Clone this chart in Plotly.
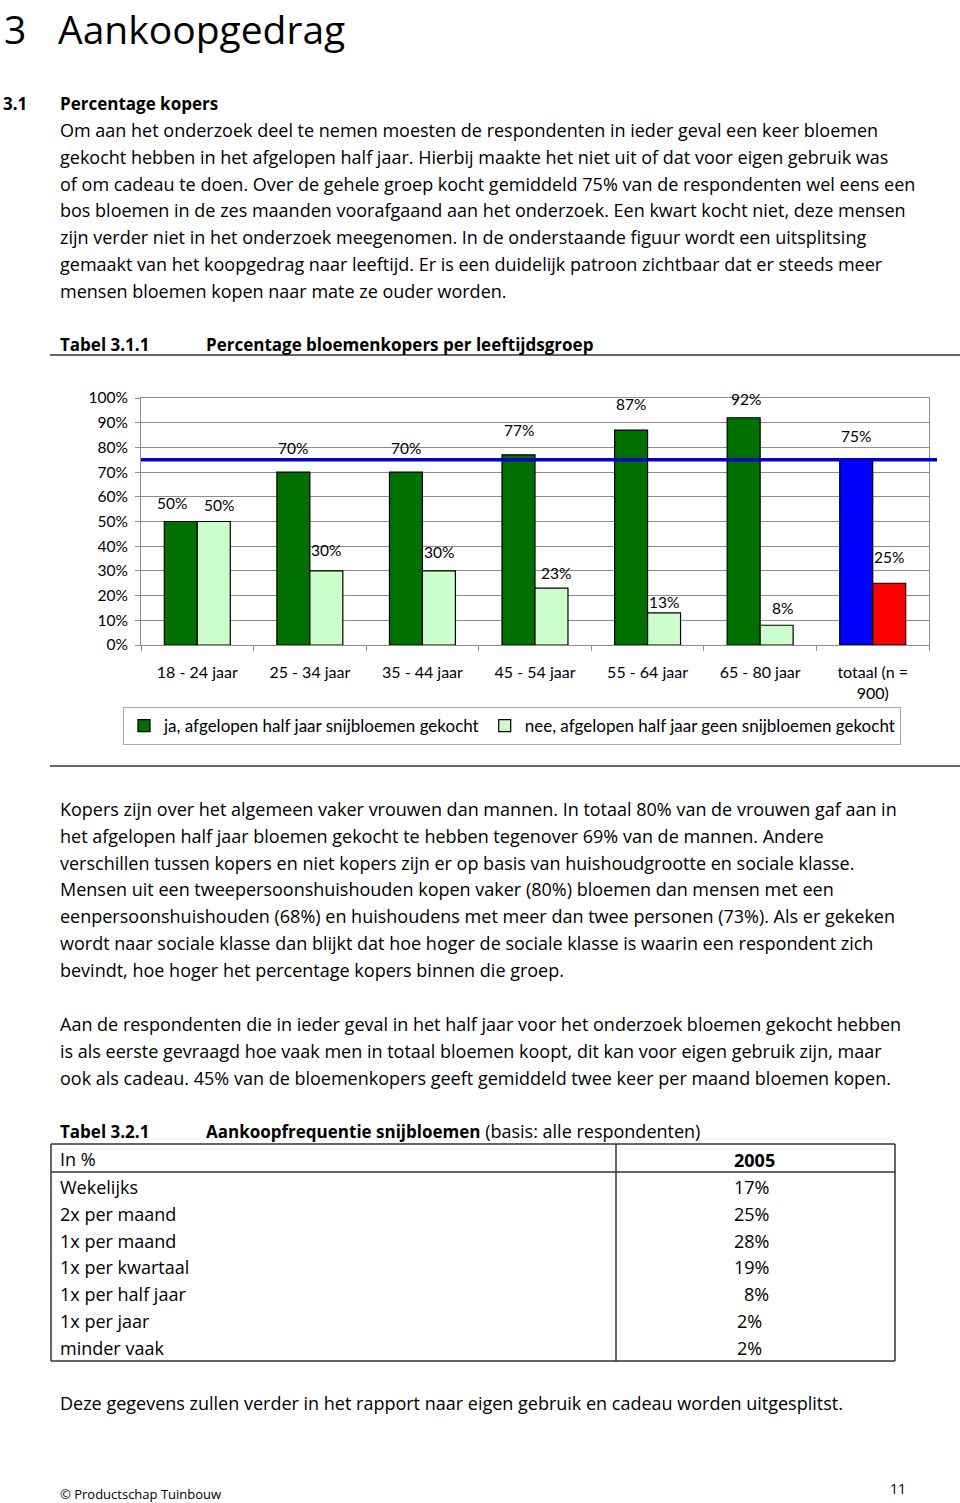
import plotly.graph_objects as go

W, H = 960, 1503
FONT = "Open Sans"
CHART_FONT = "Lato"
BODY = 18
BOLD = 17

# ---------------- data ----------------
categories = ["18 - 24 jaar", "25 - 34 jaar", "35 - 44 jaar", "45 - 54 jaar",
              "55 - 64 jaar", "65 - 80 jaar", "totaal (n =<br>900)"]
ja_pct = [50, 70, 70, 77, 87, 92, 75]
nee_pct = [50, 30, 30, 23, 13, 8, 25]
gemiddeld_pct = 75
y_tick_values = [0, 10, 20, 30, 40, 50, 60, 70, 80, 90, 100]
y_tick_labels = ["0%", "10%", "20%", "30%", "40%", "50%", "60%", "70%", "80%", "90%", "100%"]
series_names = ["ja, afgelopen half jaar snijbloemen gekocht",
                "nee, afgelopen half jaar geen snijbloemen gekocht"]

freq_labels = ["Wekelijks", "2x per maand", "1x per maand", "1x per kwartaal",
               "1x per half jaar", "1x per jaar", "minder vaak"]
freq_2005 = [17, 25, 28, 19, 8, 2, 2]

# label placement (pixel offsets relative to bar top)
ja_label_dy = [19, 24, 24, 25, 26, 19, 24]
ja_label_dx = [-9, 0, 0, 0, 0, 2, 0]
nee_label_dy = [17, 21, 19, 15, 11, 17, 26]
nee_label_dx = [5, 0, 0, 5, 0, 6, 0]

ja_colors = ["#007000"] * 6 + ["#0000FF"]
nee_colors = ["#CCFFCC"] * 6 + ["#FF0000"]

# ---------------- helpers ----------------
def X(x):
    return x / W


def Y(y):
    return 1 - y / H


annotations = []
shapes = []


def text(x, y, s, size=BODY, anchor="left", family=FONT, yanchor="middle"):
    annotations.append(dict(x=X(x), y=Y(y), xref="paper", yref="paper", text=s,
                            showarrow=False, xanchor=anchor, yanchor=yanchor,
                            font=dict(family=family, size=size, color="black")))


def hline(x0, x1, y, color="#333333", width=1.5):
    shapes.append(dict(type="line", xref="paper", yref="paper", x0=X(x0), x1=X(x1),
                       y0=Y(y), y1=Y(y), line=dict(color=color, width=width)))


def vline(x, y0, y1, color="#333333", width=1.5):
    shapes.append(dict(type="line", xref="paper", yref="paper", x0=X(x), x1=X(x),
                       y0=Y(y0), y1=Y(y1), line=dict(color=color, width=width)))


# ---------------- page text ----------------
text(2, 0, "3", size=39, yanchor="top")
text(56, 0, "Aankoopgedrag", size=39, yanchor="top")
text(1, 103, "<b>3.1</b>", size=BOLD)
text(58, 103, "<b>Percentage kopers</b>", size=BOLD)

para1 = [
    "Om aan het onderzoek deel te nemen moesten de respondenten in ieder geval een keer bloemen",
    "gekocht hebben in het afgelopen half jaar. Hierbij maakte het niet uit of dat voor eigen gebruik was",
    "of om cadeau te doen. Over de gehele groep kocht gemiddeld 75% van de respondenten wel eens een",
    "bos bloemen in de zes maanden voorafgaand aan het onderzoek. Een kwart kocht niet, deze mensen",
    "zijn verder niet in het onderzoek meegenomen. In de onderstaande figuur wordt een uitsplitsing",
    "gemaakt van het koopgedrag naar leeftijd. Er is een duidelijk patroon zichtbaar dat er steeds meer",
    "mensen bloemen kopen naar mate ze ouder worden.",
]
for i, line in enumerate(para1):
    text(58, 130 + i * 26.8, line)

text(58, 345, "<b>Tabel 3.1.1</b>", size=BOLD)
text(204, 345, "<b>Percentage bloemenkopers per leeftijdsgroep</b>", size=BOLD)
hline(50, 960, 355)
hline(50, 960, 766)

para2 = [
    "Kopers zijn over het algemeen vaker vrouwen dan mannen. In totaal 80% van de vrouwen gaf aan in",
    "het afgelopen half jaar bloemen gekocht te hebben tegenover 69% van de mannen. Andere",
    "verschillen tussen kopers en niet kopers zijn er op basis van huishoudgrootte en sociale klasse.",
    "Mensen uit een tweepersoonshuishouden kopen vaker (80%) bloemen dan mensen met een",
    "eenpersoonshuishouden (68%) en huishoudens met meer dan twee personen (73%). Als er gekeken",
    "wordt naar sociale klasse dan blijkt dat hoe hoger de sociale klasse is waarin een respondent zich",
    "bevindt, hoe hoger het percentage kopers binnen die groep.",
]
for i, line in enumerate(para2):
    text(58, 809 + i * 26.8, line)

para3 = [
    "Aan de respondenten die in ieder geval in het half jaar voor het onderzoek bloemen gekocht hebben",
    "is als eerste gevraagd hoe vaak men in totaal bloemen koopt, dit kan voor eigen gebruik zijn, maar",
    "ook als cadeau. 45% van de bloemenkopers geeft gemiddeld twee keer per maand bloemen kopen.",
]
for i, line in enumerate(para3):
    text(58, 1024 + i * 26.8, line)

text(58, 1131, "<b>Tabel 3.2.1</b>", size=BOLD)
text(204, 1131, "<b>Aankoopfrequentie snijbloemen</b>"
     "<span style='font-size:18px'> (basis: alle respondenten)</span>", size=BOLD)

# table frame
hline(51, 895, 1144)
hline(51, 895, 1361)
vline(51, 1144, 1361)
vline(895, 1144, 1361)
vline(616, 1144, 1361)
hline(51, 895, 1172)
text(58, 1159, "In %")
text(777, 1160, "<b>2005</b>", anchor="right")
for i, (lab, val) in enumerate(zip(freq_labels, freq_2005)):
    yy = 1187 + i * 26.8
    text(58, yy, lab)
    text(771 if val >= 5 else 764, yy, f"{val}%", anchor="right")

text(58, 1403, "Deze gegevens zullen verder in het rapport naar eigen gebruik en cadeau worden uitgesplitst.")
text(58, 1494, "© Productschap Tuinbouw", size=13)
text(908, 1488, "11", size=14, anchor="right")

# ---------------- chart ----------------
fig = go.Figure()
fig.add_trace(go.Bar(x=categories, y=ja_pct, name=series_names[0],
                     marker=dict(color=ja_colors, line=dict(color="black", width=1.2))))
fig.add_trace(go.Bar(x=categories, y=nee_pct, name=series_names[1],
                     marker=dict(color=nee_colors, line=dict(color="black", width=1.2))))

plot_x0, plot_x1 = 141, 929
group_px = (plot_x1 - plot_x0) / len(categories)
bargap = 0.414
bar_px = group_px * (1 - bargap) / 2

for i, c in enumerate(categories):
    annotations.append(dict(x=c, y=ja_pct[i], xref="x", yref="y", text=f"{ja_pct[i]}%",
                            showarrow=False, xanchor="center", yanchor="middle",
                            xshift=-bar_px / 2 + ja_label_dx[i], yshift=ja_label_dy[i],
                            font=dict(family=CHART_FONT, size=15.5, color="black")))
    annotations.append(dict(x=c, y=nee_pct[i], xref="x", yref="y", text=f"{nee_pct[i]}%",
                            showarrow=False, xanchor="center", yanchor="middle",
                            xshift=bar_px / 2 + nee_label_dx[i], yshift=nee_label_dy[i],
                            font=dict(family=CHART_FONT, size=15.5, color="black")))

# average line
shapes.append(dict(type="line", xref="paper", yref="y", x0=X(plot_x0), x1=X(937),
                   y0=gemiddeld_pct, y1=gemiddeld_pct, line=dict(color="#0000CC", width=3.5),
                   layer="above"))

grid = "#8c8c8c"
fig.update_layout(
    width=W, height=H,
    margin=dict(l=0, r=0, t=0, b=0, pad=0, autoexpand=False),
    paper_bgcolor="white", plot_bgcolor="white",
    barmode="group", bargap=bargap, bargroupgap=0,
    font=dict(family=CHART_FONT, size=15, color="black"),
    xaxis=dict(domain=[X(plot_x0), X(plot_x1)], type="category", automargin=False,
               showline=True, linecolor=grid, linewidth=1, mirror=True,
               ticks="outside", tickson="boundaries", ticklen=5, tickcolor=grid,
               showgrid=False, tickfont=dict(family=CHART_FONT, size=16), ticklabelstandoff=13),
    yaxis=dict(domain=[Y(645), Y(398)], range=[0, 100], tickvals=y_tick_values, automargin=False,
               ticktext=y_tick_labels, showgrid=True, gridcolor=grid, gridwidth=1,
               showline=True, linecolor=grid, linewidth=1, mirror=True,
               ticks="outside", ticklen=5, tickcolor=grid, zeroline=False,
               tickfont=dict(family=CHART_FONT, size=15.5), ticklabelstandoff=4),
    legend=dict(orientation="h", x=X(123), y=Y(707), xanchor="left", yanchor="top",
                bordercolor="#aaaaaa", borderwidth=1, bgcolor="white",
                font=dict(family=CHART_FONT, size=17), traceorder="normal",
                entrywidth=0, itemclick=False),
    annotations=annotations,
    shapes=shapes,
)

fig.write_html("out.html", config={"displayModeBar": False},
               post_script="document.body.style.margin='0';")
